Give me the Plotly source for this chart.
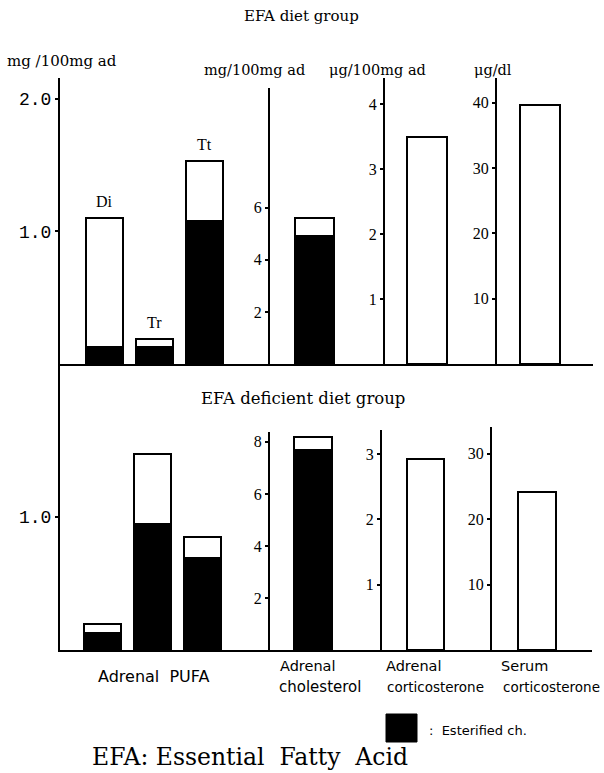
import plotly.graph_objects as go

W, H = 604, 773

# ---------------- data ----------------
pufa_cats = ["Di", "Tr", "Tt"]
pufa_total_efa = [1.10, 0.19, 1.53]
pufa_ester_efa = [0.13, 0.13, 1.08]
pufa_total_def = [0.195, 1.47, 0.85]
pufa_ester_def = [0.13, 0.95, 0.69]

chol_total_efa = [5.6]
chol_ester_efa = [4.9]
chol_total_def = [8.2]
chol_ester_def = [7.7]

cort_efa = [3.5]
cort_def = [2.92]

serum_efa = [39.7]
serum_def = [24.2]

SERIF = "Liberation Serif, Times New Roman, serif"
WSERIF = "DejaVu Serif, serif"
MONO = "Liberation Mono, Courier New, monospace"
SANS = "DejaVu Sans, sans-serif"

def px_x(p):
    return p / W

def px_y(p):
    return 1 - p / H

fig = go.Figure()

def bar(x, y, axis_n, color, width):
    xa = "x" if axis_n == 1 else f"x{axis_n}"
    ya = "y" if axis_n == 1 else f"y{axis_n}"
    fig.add_trace(go.Bar(x=x, y=y, xaxis=xa, yaxis=ya, width=width,
                         marker=dict(color=color, line=dict(color="black", width=2)),
                         showlegend=False, hoverinfo="skip"))

def diff(a, b):
    return [round(i - j, 3) for i, j in zip(a, b)]

# top row (EFA diet): axes 1-4, bottom row (EFA deficient): axes 5-8
bar(pufa_cats, pufa_ester_efa, 1, "black", 0.74)
bar(pufa_cats, diff(pufa_total_efa, pufa_ester_efa), 1, "white", 0.74)
bar(["chol"], chol_ester_efa, 2, "black", 0.39)
bar(["chol"], diff(chol_total_efa, chol_ester_efa), 2, "white", 0.39)
bar(["cort"], cort_efa, 3, "white", 0.40)
bar(["serum"], serum_efa, 4, "white", 0.40)

bar(pufa_cats, pufa_ester_def, 5, "black", 0.74)
bar(pufa_cats, diff(pufa_total_def, pufa_ester_def), 5, "white", 0.74)
bar(["chol"], chol_ester_def, 6, "black", 0.38)
bar(["chol"], diff(chol_total_def, chol_ester_def), 6, "white", 0.38)
bar(["cort"], cort_def, 7, "white", 0.37)
bar(["serum"], serum_def, 8, "white", 0.38)

# axis layout: (x domain px, x range, y domain px (bottom, top), y range, tickvals, ticktext, font)
specs = {
    1: ((60, 270), [-0.88, 3.32], (364, 78), [0, 2.158], [1.0, 2.0], ["1.0", "2.0"], (MONO, 18)),
    2: ((270, 385), [-0.445, 0.705], (364, 88), [0, 10.6], [2, 4, 6], ["2", "4", "6"], (SERIF, 16)),
    3: ((385, 497), [-0.42, 0.70], (364, 78), [0, 4.4], [1, 2, 3, 4], ["1", "2", "3", "4"], (SERIF, 16)),
    4: ((497, 593), [-0.43, 0.53], (364, 78), [0, 43.8], [10, 20, 30, 40], ["10", "20", "30", "40"], (SERIF, 16)),
    5: ((60, 270), [-0.84, 3.36], (650, 364), [0, 2.15], [1.0], ["1.0"], (MONO, 18)),
    6: ((270, 382), [-0.43, 0.69], (650, 432), [0, 8.38], [2, 4, 6, 8], ["2", "4", "6", "8"], (SERIF, 16)),
    7: ((382, 492), [-0.435, 0.665], (650, 430), [0, 3.37], [1, 2, 3], ["1", "2", "3"], (SERIF, 16)),
    8: ((492, 592), [-0.45, 0.55], (650, 427), [0, 34.1], [10, 20, 30], ["10", "20", "30"], (SERIF, 16)),
}

layout_axes = {}
for n, (xd, xr, yd, yr, tv, tt, fnt) in specs.items():
    xk = "xaxis" if n == 1 else f"xaxis{n}"
    yk = "yaxis" if n == 1 else f"yaxis{n}"
    ya = "y" if n == 1 else f"y{n}"
    xa = "x" if n == 1 else f"x{n}"
    layout_axes[xk] = dict(domain=[px_x(xd[0]), px_x(xd[1])], range=xr, anchor=ya,
                           showline=True, linecolor="black", linewidth=2,
                           showticklabels=False, ticks="", showgrid=False,
                           zeroline=False, fixedrange=True)
    layout_axes[yk] = dict(domain=[px_y(yd[0]), px_y(yd[1])], range=yr, anchor=xa,
                           showline=True, linecolor="black", linewidth=2,
                           tickvals=tv, ticktext=tt, ticks="outside", ticklen=3,
                           tickwidth=1.5, tickcolor="black", showgrid=False,
                           zeroline=False, fixedrange=True,
                           tickfont=dict(family=fnt[0], size=fnt[1], color="black"))

fig.update_layout(**layout_axes)

annotations = []
# Di / Tr / Tt labels above top-row bars
for c, v in zip(pufa_cats, pufa_total_efa):
    annotations.append(dict(x=c, y=v, xref="x", yref="y", text=c, showarrow=False,
                            yanchor="bottom", yshift=6,
                            font=dict(family=SERIF, size=16, color="black")))

def ptext(x, y, text, size=13, family=WSERIF, xanchor="center", yanchor="middle"):
    annotations.append(dict(x=px_x(x), y=px_y(y), xref="paper", yref="paper", text=text,
                            showarrow=False, xanchor=xanchor, yanchor=yanchor,
                            font=dict(family=family, size=size, color="black")))

ptext(301, 16, "EFA diet group", 15)
ptext(5, 61, "mg /100mg ad", 15, xanchor="left")
ptext(202, 70, "mg/100mg ad", 14.5, xanchor="left")
ptext(327, 70, "μg/100mg ad", 14.5, xanchor="left")
ptext(472, 70, "μg/dl", 14.5, xanchor="left")
ptext(303, 398, "EFA deficient diet group", 16.5)

ptext(154, 676, "Adrenal  PUFA", 16, SANS)
ptext(278, 666, "Adrenal", 14.5, SANS, xanchor="left")
ptext(277, 687, "cholesterol", 15, SANS, xanchor="left")
ptext(384, 666, "Adrenal", 14.5, SANS, xanchor="left")
ptext(385, 687, "corticosterone", 13.5, SANS, xanchor="left")
ptext(499, 666, "Serum", 14.5, SANS, xanchor="left")
ptext(501, 687, "corticosterone", 13.5, SANS, xanchor="left")

ptext(427, 730, ":  Esterified ch.", 13, SANS, xanchor="left")
ptext(90, 757, "EFA: Essential  Fatty  Acid", 23.5, WSERIF, xanchor="left")

shapes = [dict(type="rect", xref="paper", yref="paper",
               x0=px_x(386), x1=px_x(417), y0=px_y(742), y1=px_y(714),
               fillcolor="black", line=dict(color="black", width=1))]

fig.update_layout(width=W, height=H, margin=dict(l=0, r=0, t=0, b=0),
                  paper_bgcolor="white", plot_bgcolor="white",
                  barmode="stack", bargap=0, showlegend=False,
                  annotations=annotations, shapes=shapes)

fig.write_html("out.html", config={"displayModeBar": False},
               post_script="document.body.style.margin='0px';")
